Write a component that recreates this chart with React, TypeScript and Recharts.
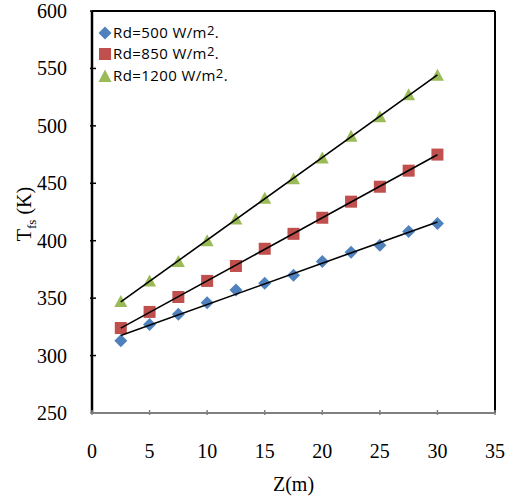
import React from 'react';
import { ScatterChart, Scatter, XAxis, YAxis, Legend, ReferenceLine } from 'recharts';

// Z positions (m) and the fluid temperature for each radiation level
const zValues = [2.5, 5, 7.5, 10, 12.5, 15, 17.5, 20, 22.5, 25, 27.5, 30];
const rd500 = [313, 327, 336, 346, 357, 363, 370, 382, 390, 396, 408, 415];
const rd850 = [324, 338, 351, 365, 378, 393, 406, 420, 434, 447, 461, 475];
const rd1200 = [347, 365, 382, 400, 419, 437, 454, 472, 491, 508, 527, 544];

const xTicks = [0, 5, 10, 15, 20, 25, 30, 35];
const yTicks = [250, 300, 350, 400, 450, 500, 550, 600];

const seriesNames = ['Rd=500 W/m', 'Rd=850 W/m', 'Rd=1200 W/m'];
const seriesColors = ['#4F81BD', '#C0504D', '#9BBB59'];

const toPoints = (vals: number[]) => zValues.map((z, i) => ({ x: z, y: vals[i] }));

const serif = '"Liberation Serif", "Times New Roman", serif';

const Diamond = ({ cx, cy }: any) => (
  <path d={`M${cx},${cy - 6.5} L${cx + 6.5},${cy} L${cx},${cy + 6.5} L${cx - 6.5},${cy} Z`} fill={seriesColors[0]} />
);
const Square = ({ cx, cy }: any) => (
  <rect x={cx - 6} y={cy - 6} width={12} height={12} fill={seriesColors[1]} />
);
const Triangle = ({ cx, cy }: any) => (
  <path d={`M${cx},${cy - 6.5} L${cx + 6.5},${cy + 5.5} L${cx - 6.5},${cy + 5.5} Z`} fill={seriesColors[2]} />
);
const Nothing = () => <g />;

const XTick = ({ x, y, payload }: any) => (
  <g>
    <line x1={x} x2={x} y1={y} y2={y - 5} stroke="#808080" strokeWidth={1.5} />
    <text x={x} y={y + 43} textAnchor="middle" fontFamily={serif} fontSize={20} fill="#000">
      {payload.value}
    </text>
  </g>
);

const YTick = ({ x, y, payload }: any) => (
  <g>
    <line x1={x} x2={x + 6} y1={y} y2={y} stroke={payload.value === 250 ? '#808080' : '#000'} strokeWidth={1.5} />
    <text x={x - 23} y={y + 7} textAnchor="end" fontFamily={serif} fontSize={20} fill="#000">
      {payload.value}
    </text>
  </g>
);

const legendIcons = [
  <svg width="14" height="14" key="d"><path d="M7,0.5 L13.5,7 L7,13.5 L0.5,7 Z" fill={seriesColors[0]} /></svg>,
  <svg width="14" height="14" key="s"><rect x="1" y="1" width="12" height="12" fill={seriesColors[1]} /></svg>,
  <svg width="14" height="14" key="t"><path d="M7,0.5 L13.5,13 L0.5,13 Z" fill={seriesColors[2]} /></svg>,
];

const renderLegend = () => (
  <div style={{ fontFamily: '"Open Sans", sans-serif', fontSize: 15, letterSpacing: 0.4, lineHeight: '21.5px', color: '#000' }}>
    {seriesNames.map((name, i) => (
      <div key={name} style={{ display: 'flex', alignItems: 'center', height: 21.5 }}>
        {legendIcons[i]}
        <span style={{ marginLeft: 1, whiteSpace: 'nowrap' }}>
          {name}
          <span style={{ fontSize: 13, position: 'relative', top: -3 }}>2</span>.
        </span>
      </div>
    ))}
  </div>
);

export default function App() {
  return (
    <div style={{ position: 'absolute', left: 0, top: 0, width: 529, height: 499, background: '#fff' }}>
      <ScatterChart width={529} height={499} margin={{ top: 11, right: 34, bottom: 0, left: 0 }}>
        <XAxis
          type="number"
          dataKey="x"
          domain={[0, 35]}
          ticks={xTicks}
          height={86}
          tickSize={0}
          tick={<XTick />}
          axisLine={{ stroke: '#808080', strokeWidth: 2 }}
          label={({ viewBox }: any) => (
            <text
              x={viewBox.x + viewBox.width / 2}
              y={viewBox.y + 78}
              textAnchor="middle"
              fontFamily={serif}
              fontSize={20}
              fill="#000"
            >
              Z(m)
            </text>
          )}
        />
        <YAxis
          type="number"
          dataKey="y"
          domain={[250, 600]}
          ticks={yTicks}
          width={92}
          tickSize={0}
          tick={<YTick />}
          axisLine={{ stroke: '#000', strokeWidth: 2.5 }}
          label={() => (
            <text
              transform="rotate(-90 31 214)"
              x={31}
              y={214}
              textAnchor="middle"
              fontFamily={serif}
              fontSize={20}
              fill="#000"
            >
              T<tspan fontSize={13} dy={5}>fs</tspan>
              <tspan dy={-5}> (K)</tspan>
            </text>
          )}
        />
        <ReferenceLine y={600} stroke="#000" strokeWidth={2} />
        <ReferenceLine x={35} stroke="#000" strokeWidth={2} />
        <ReferenceLine y={250} stroke="#000" strokeWidth={2} strokeDasharray="2 8" />
        <Legend
          layout="vertical"
          align="center"
          verticalAlign="middle"
          content={renderLegend}
          wrapperStyle={{ left: 98, top: 22, width: 220 }}
        />
        <Scatter name="Rd=500" data={toPoints(rd500)} shape={<Diamond />} isAnimationActive={false} />
        <Scatter name="Rd=850" data={toPoints(rd850)} shape={<Square />} isAnimationActive={false} />
        <Scatter name="Rd=1200" data={toPoints(rd1200)} shape={<Triangle />} isAnimationActive={false} />
        {[rd500, rd850, rd1200].map((vals, i) => (
          <Scatter
            key={`fit${i}`}
            legendType="none"
            data={toPoints(vals)}
            shape={<Nothing />}
            line={{ stroke: '#000', strokeWidth: 1.6 }}
            lineType="fitting"
            isAnimationActive={false}
          />
        ))}
      </ScatterChart>
    </div>
  );
}
